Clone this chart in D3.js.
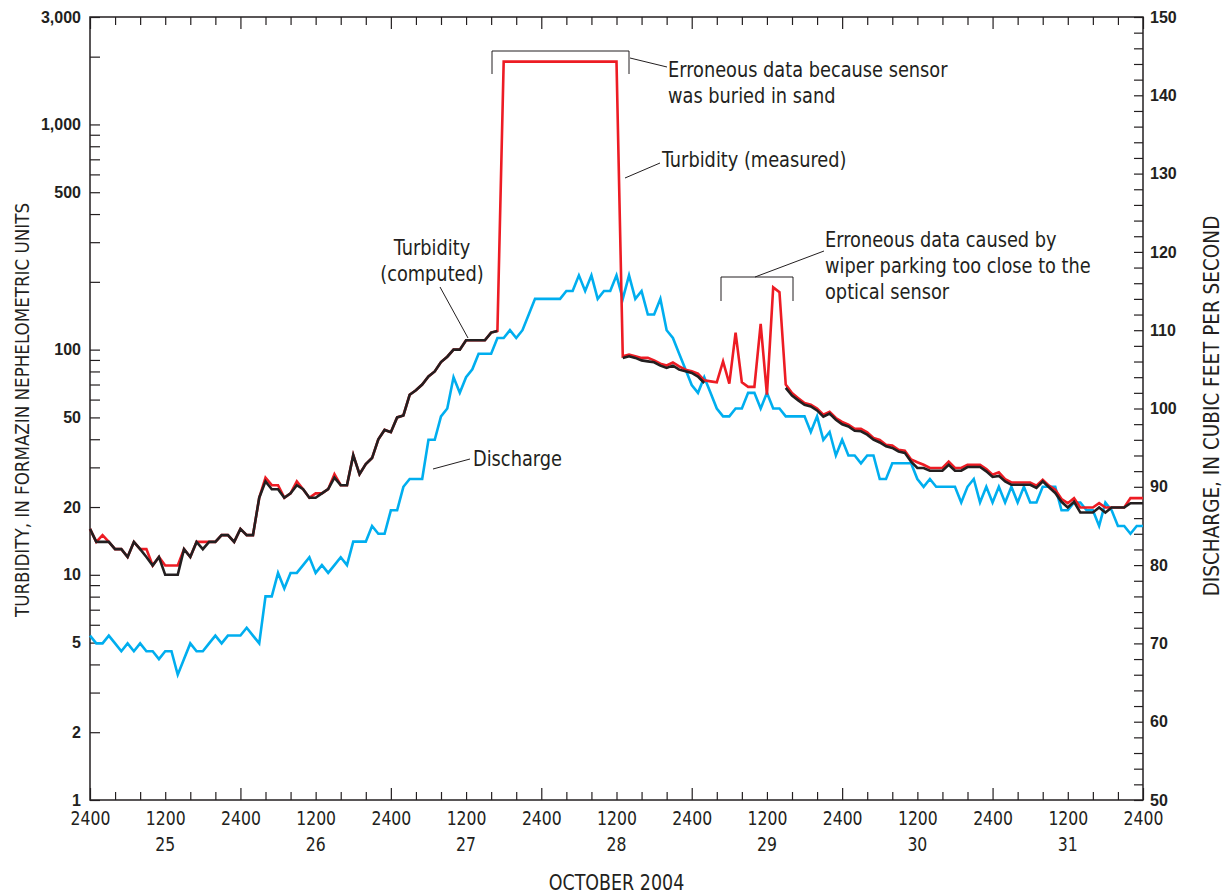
<!DOCTYPE html>
<html>
<head>
<meta charset="utf-8">
<script src="https://cdn.jsdelivr.net/npm/d3@7"></script>
<style>
    body { margin: 0; background: #fff; }
    svg { display: block; }
    .narrow { font-family: "Liberation Sans Narrow", "Arial Narrow", "DejaVu Sans Condensed", sans-serif; }
    .num { font-family: "Liberation Sans", Arial, sans-serif; font-weight: bold; font-size: 16px; }
</style>
</head>
<body>
<div id="chart"></div>
<script>
// hourly readings, 2400 Oct 24 to 2400 Oct 31
var hours = d3.range(0, 169);

// discharge, cubic feet per second (right axis)
var discharge = [
    71, 70, 70, 71, 70, 69, 70, 69, 70, 69,
    69, 68, 69, 69, 66, 68, 70, 69, 69, 70,
    71, 70, 71, 71, 71, 72, 71, 70, 76, 76,
    79, 77, 79, 79, 80, 81, 79, 80, 79, 80,
    81, 80, 83, 83, 83, 85, 84, 84, 87, 87,
    90, 91, 91, 91, 96, 96, 99, 100, 104, 102,
    104, 105, 107, 107, 107, 109, 109, 110, 109, 110,
    112, 114, 114, 114, 114, 114, 115, 115, 117, 115,
    117, 114, 115, 115, 117, 114, 117, 114, 115, 112,
    112, 114, 110, 109, 107, 105, 103, 102, 104, 102,
    100, 99, 99, 100, 100, 102, 102, 100, 102, 100,
    100, 99, 99, 99, 99, 97, 99, 96, 97, 94,
    96, 94, 94, 93, 94, 94, 91, 91, 93, 93,
    93, 93, 91, 90, 91, 90, 90, 90, 90, 88,
    90, 91, 88, 90, 88, 90, 88, 90, 88, 90,
    88, 88, 90, 90, 90, 87, 87, 88, 88, 87,
    87, 85, 88, 87, 85, 85, 84, 85, 85
];

// turbidity as measured by the sensor, FNU (left axis)
var turbMeasured = [
    16, 14, 15, 14, 13, 13, 12, 14, 13, 13,
    11, 12, 11, 11, 11, 13, 12, 14, 14, 14,
    14, 15, 15, 14, 16, 15, 15, 22, 27, 25,
    25, 22, 23, 26, 24, 22, 23, 23, 24, 28,
    25, 25, 34, 28, 31, 33, 40, 44, 43, 50,
    51, 63, 66, 70, 76, 80, 88, 93, 100, 100,
    110, 110, 110, 110, 119, 121, 1900, 1900, 1900, 1900,
    1900, 1900, 1900, 1900, 1900, 1900, 1900, 1900, 1900, 1900,
    1900, 1900, 1900, 1900, 1900, 93.4, 95, 93.4, 91.9, 91.9,
    89.6, 86.6, 85, 87.7, 84.3, 81.5, 80.1, 78.2, 73.1, 72.3,
    71.6, 88.7, 70.7, 119, 71.6, 68.3, 68.3, 130, 63.1, 189,
    180, 69.9, 64.2, 60.9, 57.9, 56.9, 54.7, 51.4, 52.9, 49.7,
    47.8, 46.4, 44.5, 44.5, 42.9, 40.5, 39.7, 37.8, 37.5, 35.9,
    35.6, 32.5, 31.6, 30.8, 29.8, 29.8, 29.8, 31.8, 29.8, 29.8,
    30.8, 30.8, 30.8, 29.5, 27.8, 28.5, 26.6, 25.7, 25.7, 25.7,
    25.7, 24.9, 26.4, 24.9, 23.9, 21.7, 20.8, 21.9, 19.9, 19.9,
    19.9, 20.8, 19.9, 19.9, 19.9, 19.9, 21.9, 21.9, 21.9
];

// turbidity computed where the sensor record was bad (null = not computed)
var turbComputed = [
    16, 14, 14, 14, 13, 13, 12, 14, 13, 12,
    11, 12, 10, 10, 10, 13, 12, 14, 13, 14,
    14, 15, 15, 14, 16, 15, 15, 22, 26, 24,
    24, 22, 23, 25, 24, 22, 22, 23, 24, 27,
    25, 25, 34, 28, 31, 33, 40, 44, 43, 50,
    51, 63, 66, 70, 76, 80, 88, 93, 100, 100,
    110, 110, 110, 110, 119, 121, null, null, null, null,
    null, null, null, null, null, null, null, null, null, null,
    null, null, null, null, null, 91.9, 93.4, 91.9, 89.6, 88.7,
    87.9, 84.9, 82.9, 84.9, 81.5, 80.1, 78.8, 75.9, 71.1, null,
    null, null, null, null, null, null, null, null, null, null,
    null, 67.6, 62.5, 59.5, 56.9, 55.9, 53.7, 50.4, 52, 48.8,
    46.6, 45.6, 43.6, 43.4, 41.9, 39.8, 38.7, 37.2, 36.6, 35.3,
    34.8, 31.8, 29.8, 29.8, 29, 29, 29, 30.8, 29, 29,
    30.1, 30.1, 30.1, 28.8, 27.2, 27.5, 26, 25.1, 25.1, 25.1,
    25.1, 24.3, 26, 24.5, 23.1, 21.1, 19.9, 21.1, 18.9, 18.9,
    18.9, 19.9, 18.9, 19.9, 19.9, 19.9, 20.8, 20.8, 20.8
];

var leftLabels = [1, 2, 5, 10, 20, 50, 100, 500, 1000, 3000];
var dayLabels = ["25", "26", "27", "28", "29", "30", "31"];
var hourTicks = d3.range(0, 169, 4);
var rightTicks = d3.range(50, 151, 2);

var WIDTH = 1227, HEIGHT = 895;
var LEFT = 90, RIGHT = 1143, TOP = 17, BOTTOM = 800;
var INK = "#231f20";

var x = d3.scaleLinear().domain([0, 168]).range([LEFT, RIGHT]);
var yL = d3.scaleLog().domain([1, 3000]).range([BOTTOM, TOP]);
var yR = d3.scaleLinear().domain([50, 150]).range([BOTTOM, TOP]);

var svg = d3.select("#chart").append("svg")
    .attr("width", WIDTH)
    .attr("height", HEIGHT);

function styleAxis(g) {
    g.select(".domain").remove();
    g.selectAll(".tick line").attr("stroke", INK).attr("stroke-width", 1.2);
    g.selectAll(".tick text").attr("fill", INK);
}

// squeeze text sideways so the condensed look of the original survives the fallback font
function condense(sel, f) {
    sel.each(function () {
        var w = this.getComputedTextLength();
        if (w > 0) {
            d3.select(this).attr("textLength", w * f).attr("lengthAdjust", "spacingAndGlyphs");
        }
    });
}

// left log axis, ticks pointing in
var gLeft = svg.append("g")
    .attr("transform", "translate(" + LEFT + ",0)")
    .call(d3.axisLeft(yL)
        .tickValues(yL.ticks())
        .tickFormat(function (d) {
            return leftLabels.indexOf(Math.round(d)) >= 0 ? d3.format(",")(Math.round(d)) : "";
        })
        .tickSizeInner(-10).tickSizeOuter(0).tickPadding(9))
    .call(styleAxis);
gLeft.selectAll(".tick text").attr("class", "num").attr("font-size", null).attr("font-family", null);

// right linear axis
var gRight = svg.append("g")
    .attr("transform", "translate(" + RIGHT + ",0)")
    .call(d3.axisRight(yR)
        .tickValues(rightTicks)
        .tickFormat(function (d) { return d % 10 === 0 ? d : ""; })
        .tickSizeInner(-9).tickSizeOuter(0).tickPadding(7))
    .call(styleAxis);
gRight.selectAll(".tick text").attr("class", "num").attr("font-size", null).attr("font-family", null);

// bottom time axis
var gBottom = svg.append("g")
    .attr("transform", "translate(0," + BOTTOM + ")")
    .call(d3.axisBottom(x)
        .tickValues(hourTicks)
        .tickFormat(function (d) {
            if (d % 24 === 0) return "2400";
            if (d % 24 === 12) return "1200";
            return "";
        })
        .tickSizeInner(-8).tickSizeOuter(0).tickPadding(11))
    .call(styleAxis);
gBottom.selectAll(".tick line").attr("y2", function (d) { return d % 24 === 0 ? -12 : -8; });
gBottom.selectAll(".tick text").attr("class", "narrow").attr("font-size", 20).attr("font-family", null);
condense(gBottom.selectAll(".tick text"), 0.87);

// top axis, ticks only
var gTop = svg.append("g")
    .attr("transform", "translate(0," + TOP + ")")
    .call(d3.axisTop(x)
        .tickValues(hourTicks)
        .tickFormat("")
        .tickSizeInner(-8).tickSizeOuter(0))
    .call(styleAxis);
gTop.selectAll(".tick line").attr("y2", function (d) { return d % 24 === 0 ? 12 : 8; });

// day numbers under the noon ticks
var days = svg.append("g").selectAll("text")
    .data(dayLabels).enter().append("text")
    .attr("class", "narrow")
    .attr("x", function (d, i) { return x(12 + 24 * i); })
    .attr("y", BOTTOM + 51)
    .attr("text-anchor", "middle")
    .attr("font-size", 20)
    .attr("fill", INK)
    .text(function (d) { return d; });
condense(days, 0.87);

// frame
svg.append("rect")
    .attr("x", LEFT).attr("y", TOP)
    .attr("width", RIGHT - LEFT).attr("height", BOTTOM - TOP)
    .attr("fill", "none").attr("stroke", INK).attr("stroke-width", 1.5);

// series
var lineQ = d3.line()
    .x(function (d, i) { return x(hours[i]); })
    .y(function (d) { return yR(d); });

var lineT = d3.line()
    .defined(function (d) { return d != null; })
    .x(function (d, i) { return x(hours[i]); })
    .y(function (d) { return yL(d); });

svg.append("path").datum(discharge)
    .attr("d", lineQ)
    .attr("fill", "none").attr("stroke", "#00aeef").attr("stroke-width", 2.6);

svg.append("path").datum(turbMeasured)
    .attr("d", lineT)
    .attr("fill", "none").attr("stroke", "#ed1c24").attr("stroke-width", 2.6);

svg.append("path").datum(turbComputed)
    .attr("d", lineT)
    .attr("fill", "none").attr("stroke", INK).attr("stroke-width", 2.6);

// annotations
var ann = svg.append("g").attr("class", "narrow").attr("fill", INK).attr("font-size", 21);

function leader(x1, y1, x2, y2) {
    ann.append("line")
        .attr("x1", x1).attr("y1", y1).attr("x2", x2).attr("y2", y2)
        .attr("stroke", INK).attr("stroke-width", 1);
}
function bracket(x1, x2, yTop, yEnd) {
    ann.append("path")
        .attr("d", "M" + x1 + "," + yEnd + "V" + yTop + "H" + x2 + "V" + yEnd)
        .attr("fill", "none").attr("stroke", INK).attr("stroke-width", 1);
}
function label(tx, ty, lines, anchor) {
    lines.forEach(function (s, i) {
        var t = ann.append("text")
            .attr("x", tx).attr("y", ty + i * 26)
            .attr("text-anchor", anchor || "start")
            .text(s);
        condense(t, 0.94);
    });
}

bracket(492, 629, 51, 74);
leader(630, 58, 667, 67);
label(668, 77, ["Erroneous data because sensor", "was buried in sand"]);

leader(625, 178, 660, 163);
label(662, 167, ["Turbidity (measured)"]);

leader(440, 287, 468, 338);
label(432, 255, ["Turbidity", "(computed)"], "middle");

leader(433, 469, 470, 459);
label(473, 466, ["Discharge"]);

bracket(721, 793, 277, 301);
leader(755, 277, 824, 251);
label(825, 247, ["Erroneous data caused by", "wiper parking too close to the", "optical sensor"]);

// axis titles
var tLeft = svg.append("text")
    .attr("class", "narrow")
    .attr("transform", "translate(22,410)rotate(-90)")
    .attr("text-anchor", "middle").attr("dy", "0.35em")
    .attr("font-size", 20).attr("fill", INK)
    .text("TURBIDITY, IN FORMAZIN NEPHELOMETRIC UNITS");
condense(tLeft, 0.93);

svg.append("text")
    .attr("class", "narrow")
    .attr("transform", "translate(1212,406)rotate(-90)")
    .attr("text-anchor", "middle").attr("dy", "0.35em")
    .attr("font-size", 20.5).attr("fill", INK)
    .text("DISCHARGE, IN CUBIC FEET PER SECOND");

var tBottom = svg.append("text")
    .attr("class", "narrow")
    .attr("x", (LEFT + RIGHT) / 2).attr("y", 890)
    .attr("text-anchor", "middle")
    .attr("font-size", 21).attr("fill", INK)
    .text("OCTOBER 2004");
condense(tBottom, 0.925);
</script>
</body>
</html>
